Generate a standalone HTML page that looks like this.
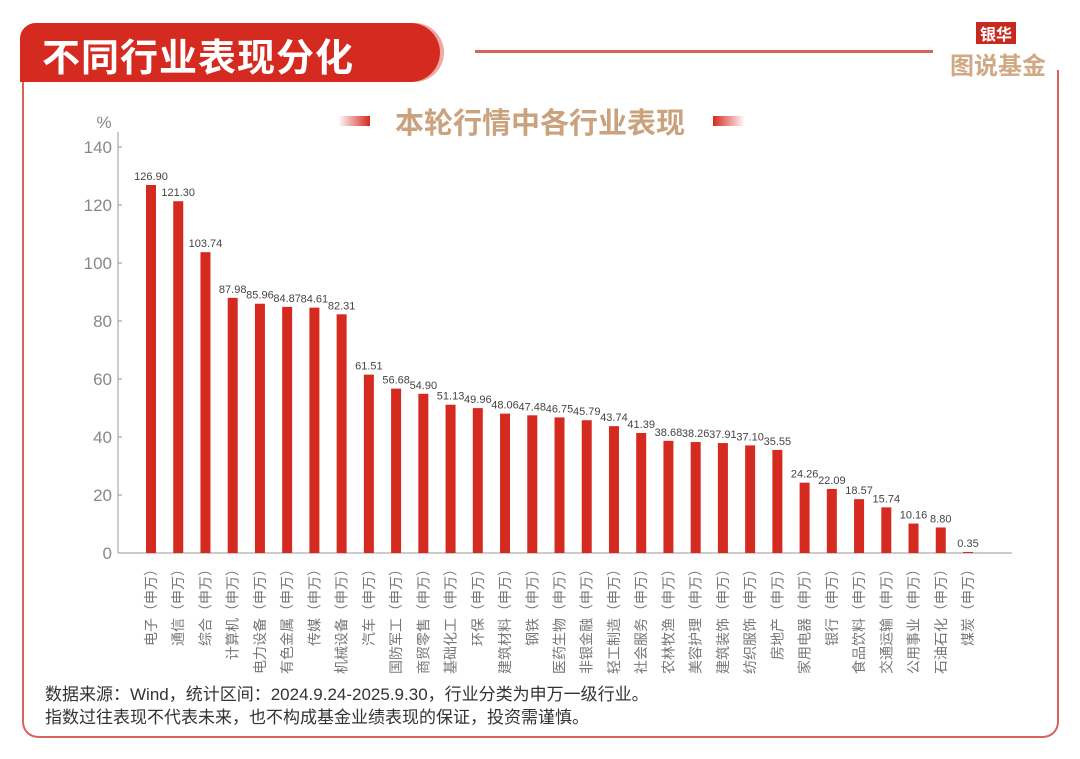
<!DOCTYPE html>
<html><head><meta charset="utf-8">
<style>
body{margin:0;width:1080px;height:759px;background:#fff;overflow:hidden;font-family:"Liberation Sans","Noto Sans CJK SC",sans-serif;position:relative}
.frame{position:absolute;left:22px;top:70px;width:1037px;height:668px;border:2.5px solid #d9625c;border-top:none;border-radius:0 0 16px 16px;box-sizing:border-box}
.tab{position:absolute;left:20px;top:23px;width:420px;height:59px;background:#d42a20;border-radius:18px 34px 34px 0;box-shadow:4px 0 0 #f0a9a2}
.tab span{position:absolute;left:22px;top:4px;color:#fff;font-size:38px;font-weight:bold;font-family:"Noto Sans CJK SC",sans-serif;letter-spacing:1px}
.hline{position:absolute;left:475px;top:50px;width:458px;height:3px;background:#d9625c}
.logo1{position:absolute;left:976px;top:22px;background:#c8291f;color:#fff;font-size:16px;font-weight:bold;padding:0 4px;font-family:"Noto Sans CJK SC",sans-serif;line-height:22px}
.logo2{position:absolute;left:950px;top:46px;color:#d0a883;font-size:24px;font-weight:bold;font-family:"Noto Sans CJK SC",sans-serif;background:#fff}
.sub{position:absolute;left:0;width:1080px;top:100px;text-align:center;color:#caa27d;font-size:29px;font-weight:bold;font-family:"Noto Sans CJK SC",sans-serif}
.bar1{position:absolute;top:116px;width:32px;height:10px}
.note{position:absolute;left:45px;font-size:17px;color:#333;font-family:"Liberation Sans","Noto Sans CJK SC",sans-serif}
</style></head><body>
<div class="frame"></div>
<div class="tab"><span>不同行业表现分化</span></div>
<div class="hline"></div>
<div class="logo1">银华</div>
<div class="logo2">图说基金</div>
<div class="bar1" style="left:338px;background:linear-gradient(90deg,rgba(212,42,32,0),#d42a20)"></div>
<div class="bar1" style="left:713px;background:linear-gradient(90deg,#d42a20,rgba(212,42,32,0))"></div>
<div class="sub">本轮行情中各行业表现</div>
<svg id="chart" width="1080" height="759" style="position:absolute;left:0;top:0"></svg>
<div class="note" style="top:680px">数据来源：Wind，统计区间：2024.9.24-2025.9.30，行业分类为申万一级行业。</div>
<div class="note" style="top:703px">指数过往表现不代表未来，也不构成基金业绩表现的保证，投资需谨慎。</div>
<script>
const categories=["电子","通信","综合","计算机","电力设备","有色金属","传媒","机械设备","汽车","国防军工","商贸零售","基础化工","环保","建筑材料","钢铁","医药生物","非银金融","轻工制造","社会服务","农林牧渔","美容护理","建筑装饰","纺织服饰","房地产","家用电器","银行","食品饮料","交通运输","公用事业","石油石化","煤炭"];
const values=[126.90,121.30,103.74,87.98,85.96,84.87,84.61,82.31,61.51,56.68,54.90,51.13,49.96,48.06,47.48,46.75,45.79,43.74,41.39,38.68,38.26,37.91,37.10,35.55,24.26,22.09,18.57,15.74,10.16,8.80,0.35];
const yTicks=[0,20,40,60,80,100,120,140];
const NS="http://www.w3.org/2000/svg";
const svg=document.getElementById('chart');
const x0=118,x1=1012,y0=553,yTop=147,yMax=140;
const y=v=>y0-(v/yMax)*(y0-yTop);
const n=categories.length;
const first=151,last=968;
const step=(last-first)/(n-1);
const xc=i=>first+i*step;
function mk(t,a){const e=document.createElementNS(NS,t);for(const k in a)e.setAttribute(k,a[k]);svg.appendChild(e);return e;}
let ax=mk('line',{x1:x0,y1:y0,x2:x1,y2:y0,stroke:'#999','stroke-width':1});


let ay=mk('line',{x1:x0,y1:yTop-15,x2:x0,y2:y0,stroke:'#999','stroke-width':1});


let unit=mk('text',{x:104,y:128,'font-size':17,fill:'#888','text-anchor':'middle'});unit.textContent='%';


yTicks.forEach(t=>{
  const tx=mk('text',{x:112,y:y(t)+6,'font-size':17,fill:'#888','text-anchor':'end'});tx.textContent=t;
  
  
  const tk=mk('line',{x1:x0,y1:y(t),x2:x0+4,y2:y(t),stroke:'#999'});
  
  
});
values.forEach((v,i)=>{
  const b=mk('rect',{x:xc(i)-5,y:y(v),width:10,height:y0-y(v),fill:'#d42a20'});
  
  
  const l=mk('text',{x:xc(i),y:y(v)-5,'font-size':11,fill:'#444','text-anchor':'middle'});l.textContent=v.toFixed(2);
  
  
  const c=mk('text',{x:0,y:0,'font-size':14,fill:'#777','text-anchor':'end',transform:`translate(${xc(i)+5},562) rotate(-90)`});
  c.textContent=categories[i]+'（申万）';
  
  
});
</script>
</body></html>
